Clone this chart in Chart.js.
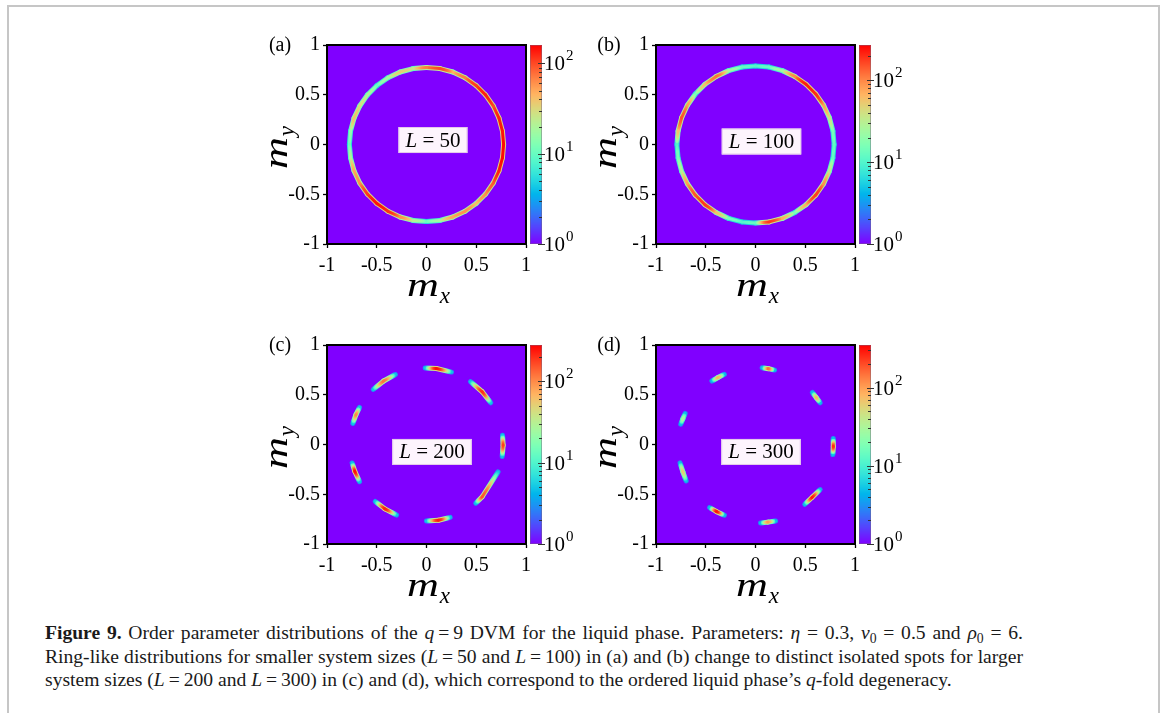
<!DOCTYPE html>
<html lang="en">
<head>
<meta charset="utf-8">
<title>Order parameter distributions, q = 9 DVM</title>
<script src="https://cdn.jsdelivr.net/npm/chart.js@4.4.1/dist/chart.umd.min.js"></script>
<style>
  body { margin: 0; background: #fff; width: 1167px; height: 713px; overflow: hidden; position: relative; }
  #frame { position: absolute; left: 7px; top: 5px; width: 1149px; height: 760px; border: 2px solid #c6c6c6; border-bottom: none; }
  canvas { position: absolute; }
  #caption { position: absolute; left: 45px; top: 621px; font-family: 'Liberation Serif', serif; font-size: 19.6px; line-height: 23.5px; color: #1a1a1a; white-space: nowrap; }
  #caption .full { width: 978px; text-align: justify; text-align-last: justify; white-space: normal; }
  #caption sub { font-size: 70%; line-height: 0; vertical-align: -0.3em; }
</style>
</head>
<body>
<div id="frame"></div>
<canvas id="pa" width="340" height="290" style="left:250px;top:30px"></canvas>
<canvas id="pb" width="340" height="290" style="left:579px;top:30px"></canvas>
<canvas id="pc" width="340" height="290" style="left:250px;top:330px"></canvas>
<canvas id="pd" width="340" height="290" style="left:579px;top:330px"></canvas>
<div id="caption">
  <div class="full"><b>Figure 9.</b> Order parameter distributions of the <i>q</i>&thinsp;=&thinsp;9 DVM for the liquid phase. Parameters: <i>η</i> = 0.3, <i>ν</i><sub>0</sub> = 0.5 and <i>ρ</i><sub>0</sub> = 6.</div>
  <div class="full">Ring-like distributions for smaller system sizes (<i>L</i>&thinsp;=&thinsp;50 and <i>L</i>&thinsp;=&thinsp;100) in (a) and (b) change to distinct isolated spots for larger</div>
  <div>system sizes (<i>L</i>&thinsp;=&thinsp;200 and <i>L</i>&thinsp;=&thinsp;300) in (c) and (d), which correspond to the ordered liquid phase’s <i>q</i>-fold degeneracy.</div>
</div>
<script>
// panel labels and colour-bar ranges
var panelTags = ['(a)', '(b)', '(c)', '(d)'];
var sizeLabels = ['50', '100', '200', '300'];
var cbMax = [160, 270, 280, 350];
var axisTicks = [-1, -0.5, 0, 0.5, 1];

// ring histograms (L = 50, 100): counts along the ring every 10 degrees
var ringAngles = [0, 10, 20, 30, 40, 50, 60, 70, 80, 90, 100, 110, 120, 130, 140, 150, 160, 170,
                  180, 190, 200, 210, 220, 230, 240, 250, 260, 270, 280, 290, 300, 310, 320, 330, 340, 350];
var ringRadius = [0.775, 0.79];
var ringCountsA = [150, 140, 130, 100, 130, 110, 70, 45, 100, 70, 25, 35, 18, 10, 20, 30, 40, 15,
                   10, 20, 50, 60, 110, 140, 120, 60, 22, 10, 18, 50, 60, 40, 60, 90, 130, 150];
var ringCountsB = [12, 15, 40, 80, 200, 220, 100, 25, 12, 10, 12, 25, 120, 60, 15, 80, 150, 60,
                   10, 15, 30, 80, 150, 180, 60, 15, 10, 12, 180, 70, 15, 70, 180, 90, 35, 12];

// isolated spots (L = 200, 300): [mx, my, count] at start, peak and end of each spot
var spotsC = [
  [[-0.013, 0.770, 5], [0.100, 0.764, 250], [0.251, 0.728, 5]],
  [[-0.535, 0.554, 5], [-0.431, 0.638, 120], [-0.313, 0.703, 5]],
  [[0.442, 0.631, 5], [0.560, 0.530, 200], [0.646, 0.419, 5]],
  [[-0.740, 0.212, 5], [-0.709, 0.300, 100], [-0.673, 0.373, 5]],
  [[0.764, 0.094, 5], [0.770, -0.007, 180], [0.761, -0.120, 5]],
  [[-0.747, -0.186, 5], [-0.720, -0.272, 250], [-0.673, -0.373, 5]],
  [[-0.515, -0.572, 5], [-0.418, -0.647, 220], [-0.301, -0.709, 5]],
  [[0.000, -0.770, 5], [0.120, -0.761, 230], [0.238, -0.732, 5]],
  [[0.495, -0.590, 5], [0.560, -0.525, 150], [0.719, -0.276, 5]]
];
var spotsD = [
  [[0.067, 0.772, 5], [0.130, 0.762, 150], [0.192, 0.748, 5]],
  [[-0.438, 0.638, 5], [-0.378, 0.673, 80], [-0.313, 0.705, 5]],
  [[0.572, 0.523, 5], [0.612, 0.470, 80], [0.650, 0.419, 5]],
  [[-0.751, 0.205, 5], [-0.730, 0.258, 30], [-0.707, 0.312, 5]],
  [[0.781, 0.060, 5], [0.782, -0.020, 250], [0.778, -0.101, 5]],
  [[-0.758, -0.185, 5], [-0.730, -0.275, 60], [-0.697, -0.366, 5]],
  [[-0.461, -0.634, 5], [-0.390, -0.675, 300], [-0.313, -0.711, 5]],
  [[0.051, -0.789, 5], [0.125, -0.780, 100], [0.202, -0.768, 5]],
  [[0.495, -0.601, 5], [0.570, -0.530, 280], [0.650, -0.453, 5]]
];

var SERIF = '"Liberation Serif", "DejaVu Serif", serif';

// matplotlib 'rainbow' colormap
function rainbow(t) {
  t = Math.max(0, Math.min(1, t));
  var r = Math.min(1, Math.abs(2 * t - 0.5));
  var g = Math.max(0, Math.sin(Math.PI * t));
  var b = Math.max(0, Math.cos(Math.PI * t / 2));
  return 'rgb(' + Math.round(r * 255) + ',' + Math.round(g * 255) + ',' + Math.round(b * 255) + ')';
}

// gradient along one segment; the colour climbs quickly away from the lower end
function segGradient(c, maxCount, k) {
  var pts = c.chart.data.datasets[c.datasetIndex].data;
  var lm = Math.log10(maxCount);
  var t0 = k * Math.log10(pts[c.p0DataIndex].v) / lm;
  var t1 = k * Math.log10(pts[c.p1DataIndex].v) / lm;
  var g = c.chart.ctx.createLinearGradient(c.p0.x, c.p0.y, c.p1.x, c.p1.y);
  for (var i = 0; i <= 8; i++) {
    var f = i / 8;
    var e = t1 >= t0 ? 1 - (1 - f) * (1 - f) : f * f;
    g.addColorStop(f, rainbow(t0 + (t1 - t0) * e));
  }
  return g;
}

function trackSet(pts, maxCount, k, width, order) {
  return {
    data: pts.map(function (p) { return { x: p[0], y: p[1], v: p[2] }; }),
    showLine: true,
    pointRadius: 0,
    pointHoverRadius: 0,
    borderWidth: width,
    borderColor: 'transparent',
    borderCapStyle: 'round',
    borderJoinStyle: 'round',
    order: order,
    segment: { borderColor: function (c) { return segGradient(c, maxCount, k); } }
  };
}

// bright core on top of a wider, dimmer rim
function lineSets(tracks, maxCount) {
  var sets = [];
  tracks.forEach(function (pts) {
    sets.push(trackSet(pts, maxCount, 1, 3, 0));
    sets.push(trackSet(pts, maxCount, 0.7, 5, 1));
  });
  return sets;
}

function ringTrack(counts, r) {
  var pts = ringAngles.map(function (a, i) {
    var rad = a * Math.PI / 180;
    return [r * Math.cos(rad), r * Math.sin(rad), counts[i]];
  });
  pts.push(pts[0]);
  return [pts];
}

// m with an italic subscript, centred on (x, y) baseline
function drawMath(ctx, x, y, base, sub, rotate) {
  ctx.save();
  ctx.translate(x, y);
  if (rotate) ctx.rotate(-Math.PI / 2);
  ctx.fillStyle = '#000';
  ctx.textAlign = 'left';
  ctx.textBaseline = 'alphabetic';
  ctx.font = 'italic 34px ' + SERIF;
  var bw = ctx.measureText(base).width * 1.3;
  ctx.font = 'italic 23px ' + SERIF;
  var sw = ctx.measureText(sub).width;
  var left = -(bw + sw + 1) / 2;
  ctx.save();
  ctx.translate(left, 0);
  ctx.scale(1.3, 1);
  ctx.font = 'italic 34px ' + SERIF;
  ctx.fillText(base, 0, 0);
  ctx.restore();
  ctx.font = 'italic 23px ' + SERIF;
  ctx.fillText(sub, left + bw + 1, 7);
  ctx.restore();
}

var panelDecor = {
  id: 'panelDecor',
  beforeDraw: function (chart) {
    var a = chart.chartArea, ctx = chart.ctx;
    ctx.save();
    ctx.fillStyle = rainbow(0);
    ctx.fillRect(a.left, a.top, a.right - a.left, a.bottom - a.top);
    ctx.restore();
  },
  afterDatasetsDraw: function (chart, args, opts) {
    var ctx = chart.ctx;
    var cx = chart.scales.x.getPixelForValue(opts.lx);
    var cy = chart.scales.y.getPixelForValue(opts.ly);
    ctx.save();
    ctx.font = 'italic 21px ' + SERIF;
    var wL = ctx.measureText('L').width;
    ctx.font = '21px ' + SERIF;
    var rest = ' = ' + opts.size;
    var wR = ctx.measureText(rest).width;
    var w = wL + wR + 14, h = 26;
    ctx.fillStyle = '#fdf4fd';
    ctx.strokeStyle = '#e4c8ea';
    ctx.lineWidth = 1;
    ctx.fillRect(cx - w / 2, cy - h / 2, w, h);
    ctx.strokeRect(cx - w / 2 + 0.5, cy - h / 2 + 0.5, w - 1, h - 1);
    ctx.fillStyle = '#000';
    ctx.textBaseline = 'middle';
    ctx.textAlign = 'left';
    ctx.font = 'italic 21px ' + SERIF;
    ctx.fillText('L', cx - w / 2 + 7, cy + 1);
    ctx.font = '21px ' + SERIF;
    ctx.fillText(rest, cx - w / 2 + 7 + wL, cy + 1);
    ctx.restore();
  },
  afterDraw: function (chart, args, opts) {
    var a = chart.chartArea, ctx = chart.ctx, cb = chart.scales.cb;
    ctx.save();
    // plot frame
    ctx.strokeStyle = '#000';
    ctx.lineWidth = 2;
    ctx.strokeRect(a.left, a.top, a.right - a.left, a.bottom - a.top);

    // colour bar
    var x0 = a.right + 4, w = 12, lm = Math.log10(cb.max);
    for (var y = Math.floor(a.top); y < a.bottom; y++) {
      var v = cb.getValueForPixel(y + 0.5);
      ctx.fillStyle = rainbow(Math.log10(v) / lm);
      ctx.fillRect(x0, y, w, 1);
    }
    ctx.strokeStyle = 'rgba(120,100,130,0.45)';
    ctx.lineWidth = 1;
    ctx.strokeRect(x0 + 0.5, a.top + 0.5, w - 1, a.bottom - a.top - 1);
    ctx.strokeStyle = '#333';
    for (var d = 1; d <= cb.max; d *= 10) {
      for (var m = 1; m <= 9; m++) {
        var val = d * m;
        if (val > cb.max) break;
        var py = Math.round(cb.getPixelForValue(val)) + 0.5;
        ctx.beginPath();
        if (m === 1) {
          ctx.moveTo(x0 + w - 4, py);
          ctx.lineTo(x0 + w + 3, py);
        } else {
          ctx.moveTo(x0 + w - 3, py);
          ctx.lineTo(x0 + w, py);
        }
        ctx.stroke();
        if (m === 1) {
          ctx.fillStyle = '#000';
          ctx.textAlign = 'left';
          ctx.textBaseline = 'middle';
          ctx.font = '21px ' + SERIF;
          ctx.fillText('10', x0 + w + 2, py + 1);
          var tw = ctx.measureText('10').width;
          ctx.font = '15px ' + SERIF;
          ctx.fillText(String(Math.round(Math.log10(val))), x0 + w + 3 + tw, py - 7);
        }
      }
    }

    // panel tag and axis titles
    ctx.fillStyle = '#000';
    ctx.font = '20px ' + SERIF;
    ctx.textAlign = 'center';
    ctx.textBaseline = 'middle';
    ctx.fillText(opts.tag, a.left - 47, a.top + 1);
    ctx.restore();
    drawMath(ctx, (a.left + a.right) / 2 + 2, a.bottom + 52, 'm', 'x', false);
    drawMath(ctx, a.left - 40, (a.top + a.bottom) / 2 + 3, 'm', 'y', true);
  }
};

function axisOpts(position, size) {
  return {
    type: 'linear',
    position: position,
    min: -1,
    max: 1,
    afterBuildTicks: function (s) { s.ticks = axisTicks.map(function (v) { return { value: v }; }); },
    afterFit: function (s) {
      if (position === 'left') s.width = size; else s.height = size;
    },
    ticks: {
      callback: function (v) { return String(v); },
      font: { family: SERIF, size: 20 },
      color: '#000',
      padding: position === 'left' ? 3 : 6,
      autoSkip: false,
      maxRotation: 0
    },
    grid: { drawOnChartArea: false, tickLength: 4, tickWidth: 1.3, tickColor: '#000' },
    border: { display: true, color: '#000', width: 2 }
  };
}

function makePanel(id, idx, tracks, lx, ly) {
  new Chart(document.getElementById(id), {
    type: 'scatter',
    data: { datasets: lineSets(tracks, cbMax[idx]) },
    options: {
      responsive: false,
      animation: false,
      events: [],
      layout: { padding: { left: 32, top: 15, right: 64, bottom: 46 } },
      plugins: {
        legend: { display: false },
        tooltip: { enabled: false },
        panelDecor: { tag: panelTags[idx], size: sizeLabels[idx], lx: lx, ly: ly }
      },
      scales: {
        x: axisOpts('bottom', 30),
        y: axisOpts('left', 45),
        cb: { type: 'logarithmic', position: 'right', display: false, min: 1, max: cbMax[idx] }
      }
    },
    plugins: [panelDecor]
  });
}

makePanel('pa', 0, ringTrack(ringCountsA, ringRadius[0]), 0.065, 0.045);
makePanel('pb', 1, ringTrack(ringCountsB, ringRadius[1]), 0.06, 0.03);
makePanel('pc', 2, spotsC, 0.055, -0.075);
makePanel('pd', 3, spotsD, 0.055, -0.075);
</script>
</body>
</html>
